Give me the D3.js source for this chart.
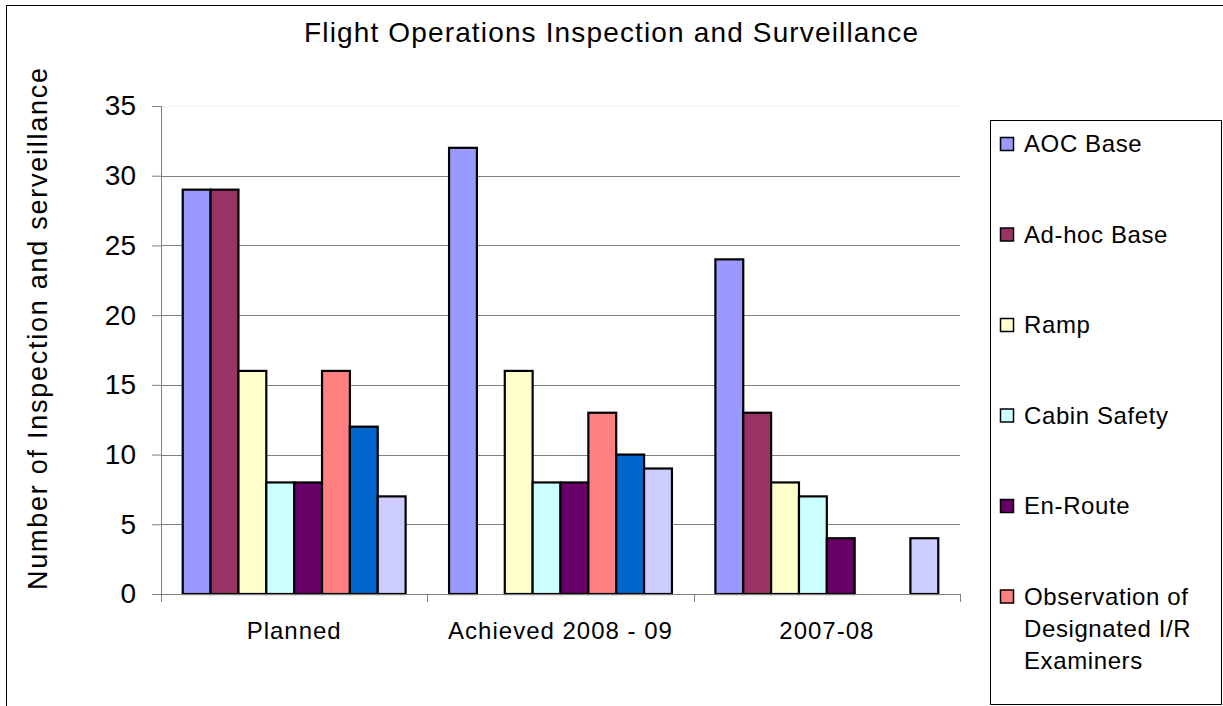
<!DOCTYPE html>
<html>
<head>
<meta charset="utf-8">
<script src="https://cdn.jsdelivr.net/npm/d3@7"></script>
<style>
  body { margin: 0; background: #fff; }
  text { font-family: "Liberation Sans", Arial, sans-serif; fill: #000; }
</style>
</head>
<body>
<svg id="chart" width="1223" height="706"></svg>
<script>
// data
var groups = ["Planned", "Achieved 2008 - 09", "2007-08"];
var seriesNames = ["AOC Base", "Ad-hoc Base", "Ramp", "Cabin Safety", "En-Route",
                   "Observation of Designated I/R Examiners", "Series 7", "Series 8"];
var planned  = [29, 29, 16, 8, 8, 16, 12, 7];
var achieved = [32, 0, 16, 8, 8, 13, 10, 9];
var prev     = [24, 13, 8, 7, 4, 0, 0, 4];
var yTicks = [0, 5, 10, 15, 20, 25, 30, 35];
var colors = ["#9999ff", "#993366", "#ffffcc", "#ccffff", "#660066", "#ff8080", "#0066cc", "#ccccff"];

var values = [planned, achieved, prev];

var svg = d3.select("#chart");

// outer frame
svg.append("rect")
    .attr("x", 6.5).attr("y", 5.5)
    .attr("width", 1230).attr("height", 720)
    .attr("fill", "none").attr("stroke", "#000").attr("stroke-width", 1);

var pLeft = 161, pRight = 960, pTop = 106, pBottom = 594;

var x0 = d3.scaleBand().domain(groups).range([pLeft, pRight]).paddingInner(0).paddingOuter(0);
var x1 = d3.scaleBand().domain(d3.range(seriesNames.length))
    .range([0, x0.bandwidth()]).paddingOuter(0.78).paddingInner(0);
var y = d3.scaleLinear().domain([0, 35]).range([pBottom, pTop]);

// grid
svg.append("g").selectAll("line")
    .data(yTicks.filter(function(d) { return d > 0; }))
    .enter().append("line")
    .attr("x1", pLeft).attr("x2", pRight)
    .attr("y1", function(d) { return Math.round(y(d)) + 0.5; })
    .attr("y2", function(d) { return Math.round(y(d)) + 0.5; })
    .attr("stroke", function(d) { return d == 35 ? "#f2f2f2" : "#808080"; })
    .attr("stroke-width", 1);

// y axis
var yAxis = svg.append("g")
    .attr("transform", "translate(" + pLeft + ",0)")
    .call(d3.axisLeft(y).tickValues(yTicks).tickSize(9).tickPadding(16));
yAxis.selectAll("line, path").attr("stroke", "#808080");
yAxis.select(".domain").attr("d", "M0.5," + pTop + "V" + pBottom);
yAxis.selectAll("text").attr("font-size", 28).attr("font-family", "Liberation Sans, Arial, sans-serif");

// bars
var g = svg.append("g");
groups.forEach(function(grp, gi) {
  g.append("g")
    .attr("transform", "translate(" + x0(grp) + ",0)")
    .selectAll("rect")
    .data(values[gi].map(function(v, i) { return {i: i, v: v}; }).filter(function(d) { return d.v > 0; }))
    .enter().append("rect")
    .attr("x", function(d) { return x1(d.i); })
    .attr("y", function(d) { return y(d.v); })
    .attr("width", x1.bandwidth())
    .attr("height", function(d) { return y(0) - y(d.v); })
    .attr("fill", function(d) { return colors[d.i]; })
    .attr("stroke", "#000")
    .attr("stroke-width", 2.2);
});

// x axis
var xAxis = svg.append("g")
    .attr("transform", "translate(0," + pBottom + ")")
    .call(d3.axisBottom(x0).tickSize(0).tickPadding(28));
xAxis.select(".domain").attr("stroke", "#808080").attr("d", "M" + pLeft + ",0.5H" + pRight);
xAxis.selectAll("text").attr("font-size", 24).attr("letter-spacing", 1)
    .attr("font-family", "Liberation Sans, Arial, sans-serif");
svg.append("g").selectAll("line")
    .data([pLeft, x0(groups[1]), x0(groups[2]), pRight])
    .enter().append("line")
    .attr("x1", function(d) { return Math.round(d) + 0.5; })
    .attr("x2", function(d) { return Math.round(d) + 0.5; })
    .attr("y1", pBottom).attr("y2", pBottom + 8)
    .attr("stroke", "#808080");

// title
svg.append("text")
    .attr("x", 611).attr("y", 42)
    .attr("text-anchor", "middle")
    .attr("font-size", 28)
    .attr("textLength", 614).attr("lengthAdjust", "spacing")
    .text("Flight Operations Inspection and Surveillance");

// y label
svg.append("text")
    .attr("transform", "translate(47,329) rotate(-90)")
    .attr("text-anchor", "middle")
    .attr("font-size", 27)
    .attr("textLength", 522).attr("lengthAdjust", "spacing")
    .text("Number of Inspection and serveillance");

// legend (clipped like the original)
svg.append("rect")
    .attr("x", 990.5).attr("y", 120.5)
    .attr("width", 231).attr("height", 584)
    .attr("fill", "#fff").attr("stroke", "#000");

var legendItems = [
  {name: ["AOC Base"], c: 0},
  {name: ["Ad-hoc Base"], c: 1},
  {name: ["Ramp"], c: 2},
  {name: ["Cabin Safety"], c: 3},
  {name: ["En-Route"], c: 4},
  {name: ["Observation of", "Designated I/R", "Examiners"], c: 5}
];
var leg = svg.append("g").selectAll("g")
    .data(legendItems)
    .enter().append("g")
    .attr("transform", function(d, i) { return "translate(1000," + (144 + i * 90.5) + ")"; });
leg.append("rect")
    .attr("x", 0.5).attr("y", -6.5)
    .attr("width", 13).attr("height", 13)
    .attr("fill", function(d) { return colors[d.c]; })
    .attr("stroke", "#000").attr("stroke-width", 1.5);
leg.append("text")
    .attr("x", 24).attr("y", 8)
    .attr("font-size", 24)
    .attr("letter-spacing", 0.6)
    .selectAll("tspan")
    .data(function(d) { return d.name; })
    .enter().append("tspan")
    .attr("x", 24)
    .attr("dy", function(d, i) { return i == 0 ? 0 : 32; })
    .text(function(d) { return d; });
</script>
</body>
</html>
